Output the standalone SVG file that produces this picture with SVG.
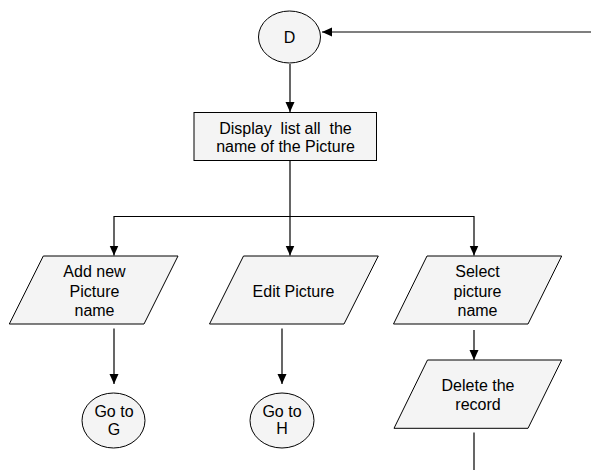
<svg xmlns="http://www.w3.org/2000/svg" width="591" height="470" viewBox="0 0 591 470">
<defs>
<marker id="arr" markerUnits="userSpaceOnUse" markerWidth="10" markerHeight="10" refX="10" refY="4.5" orient="auto">
<path d="M0,0 L10,4.5 L0,9 z" fill="#000"/>
</marker>
<style>
.s{fill:#f4f4f4;stroke:#000;stroke-width:1}
.c{fill:none;stroke:#000;stroke-width:1.2;marker-end:url(#arr)}
.l{fill:none;stroke:#000;stroke-width:1.2}
text{font-family:"Liberation Sans",Arial,sans-serif;font-size:16px;fill:#000;text-anchor:middle;white-space:pre}
</style>
</defs>
<rect width="591" height="470" fill="#fff"/>
<g id="connectors">
<path class="c" d="M591,32 H322"/>
<path class="c" d="M290,64 V112"/>
<path class="c" d="M290,161 V216.5 H114 V255.5"/>
<path class="c" d="M290,216.5 V255.5"/>
<path class="c" d="M290,216.5 H474 V255.5"/>
<path class="c" d="M114,328.5 V384"/>
<path class="c" d="M282,328.5 V384"/>
<path class="c" d="M474,330 V360"/>
<path class="l" d="M474,432.5 V470"/>
</g>
<g id="nodeD">
<ellipse class="s" cx="289.5" cy="37" rx="31" ry="26"/>
<text x="289.5" y="42.5">D</text>
</g>
<g id="display">
<rect class="s" x="194" y="112.5" width="182.5" height="48"/>
<text x="285.5" y="133.5">Display  list all  the</text>
<text x="285.5" y="152">name of the Picture</text>
</g>
<g id="addnew">
<polygon class="s" points="43.3,256 178,256 144,324 9.3,324"/>
<text x="94.5" y="277">Add new</text>
<text x="94.5" y="296.5">Picture</text>
<text x="94.5" y="316">name</text>
</g>
<g id="edit">
<polygon class="s" points="243.5,256 378.3,256 344,324 209.5,324"/>
<text x="293.5" y="296.5">Edit Picture</text>
</g>
<g id="select">
<polygon class="s" points="427,256 561.7,256 528,324 393.5,324"/>
<text x="477.5" y="277">Select</text>
<text x="477.5" y="296.5">picture</text>
<text x="477.5" y="316">name</text>
</g>
<g id="delete">
<polygon class="s" points="427.5,360 561.7,360 528,428.3 394,428.3"/>
<text x="478" y="391">Delete the</text>
<text x="478" y="410">record</text>
</g>
<g id="gotoG">
<ellipse class="s" cx="113.5" cy="420.5" rx="31.5" ry="27.5"/>
<text x="114" y="416.5">Go to</text>
<text x="114" y="435">G</text>
</g>
<g id="gotoH">
<ellipse class="s" cx="282" cy="420.5" rx="32" ry="27.5"/>
<text x="282" y="416.5">Go to</text>
<text x="282" y="434">H</text>
</g>
</svg>
